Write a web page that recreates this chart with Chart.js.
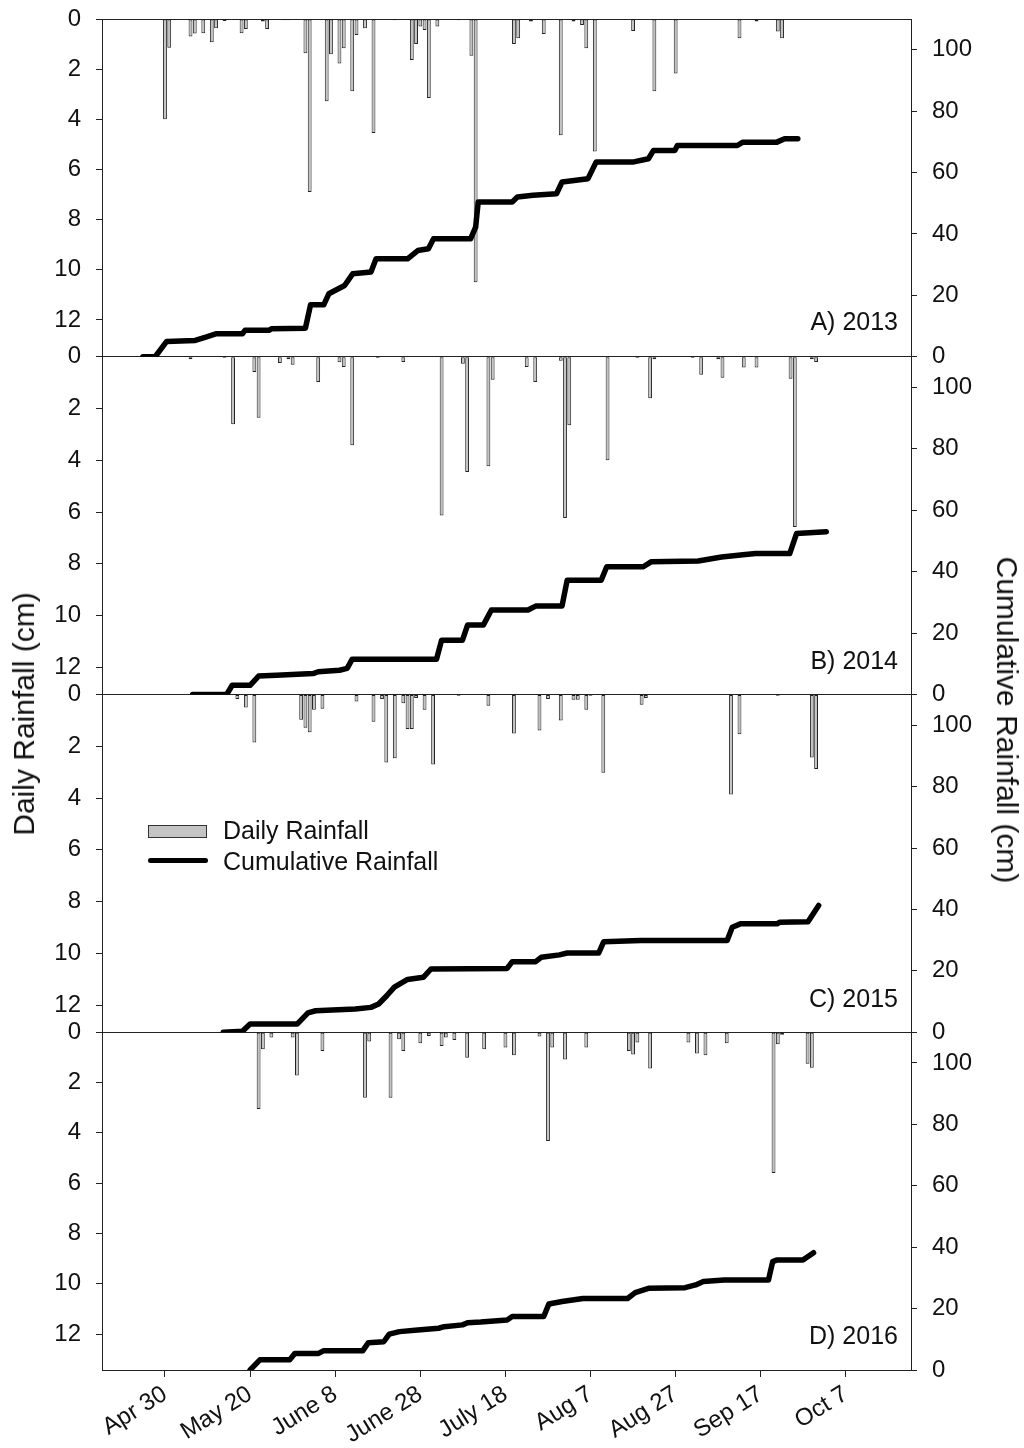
<!DOCTYPE html>
<html>
<head>
<meta charset="utf-8">
<script src="https://cdn.jsdelivr.net/npm/chart.js@4.4.1/dist/chart.umd.min.js"></script>
<style>
  body { margin: 0; background: #fff; }
  #wrap { position: relative; width: 1024px; height: 1448px; font-family: "Liberation Sans", Arial, sans-serif; color: #111; }
  canvas { position: absolute; left: 0; top: 0; }
  .title { position: absolute; font-size: 30px; white-space: nowrap; transform: translate(-50%, -50%); }
  .panel { position: absolute; right: 126px; font-size: 25px; line-height: 28px; white-space: nowrap; }
  .leg { position: absolute; font-size: 25px; line-height: 28px; white-space: nowrap; }
</style>
</head>
<body>
<div id="wrap">
  <canvas id="chart" width="1024" height="1448"></canvas>
  <div class="title" style="left:24px;top:714px;transform:translate(-50%,-50%) rotate(-90deg)">Daily Rainfall (cm)</div>
  <div class="title" style="left:1007px;top:720px;transform:translate(-50%,-50%) rotate(90deg)">Cumulative Rainfall (cm)</div>
  <div class="panel" style="top:307px">A) 2013</div>
  <div class="panel" style="top:646px">B) 2014</div>
  <div class="panel" style="top:984px">C) 2015</div>
  <div class="panel" style="top:1321px">D) 2016</div>
  <div style="position:absolute;left:148px;top:825px;width:57px;height:11px;background:#c4c4c4;border:1px solid #333"></div>
  <div class="leg" style="left:223px;top:816px">Daily Rainfall</div>
  <div style="position:absolute;left:148px;top:858px;width:60px;height:5px;background:#000;border-radius:3px"></div>
  <div class="leg" style="left:223px;top:847px">Cumulative Rainfall</div>
</div>
<script>
// x axis: day of year, ticks every 20 days
const tickDays = [120, 140, 160, 180, 200, 220, 240, 260, 280];
const tickLabels = ['Apr 30', 'May 20', 'June 8', 'June 28', 'July 18', 'Aug 7', 'Aug 27', 'Sep 17', 'Oct 7'];
const years = ['2013', '2014', '2015', '2016'];
const dailyMax = [13.47, 13.05, 13.05, 13.43];
const cumMax = 110;

// daily rainfall (cm)
const rain2013Days = [120,121,126,127,129,131,132,134,138,139,143,144,148,149,153,154,158,159,161,162,164,165,167,169,174,178,179,180,181,182,184,189,192,193,202,203,206,209,213,216,218,219,221,230,235,240,255,259,264,265];
const rain2013 = [4.0,1.15,0.7,0.58,0.57,0.93,0.37,0.08,0.57,0.4,0.1,0.4,0.05,0.05,1.37,6.9,3.28,1.41,1.77,1.17,2.88,0.64,0.37,4.55,0.05,1.64,1.0,0.3,0.44,3.15,0.3,0.05,1.47,10.5,1.0,0.77,0.1,0.6,4.64,0.1,0.24,1.17,5.28,0.48,2.88,2.17,0.77,0.1,0.5,0.77];

const rain2014Days = [126,134,136,141,142,147,149,150,156,161,162,164,170,176,185,190,191,196,197,205,207,213,214,215,224,231,234,235,244,246,250,251,256,259,267,268,272,273];
const rain2014 = [0.1,0.05,2.61,0.59,2.36,0.24,0.1,0.31,0.98,0.21,0.4,3.42,0.05,0.2,6.13,0.27,4.45,4.23,0.89,0.4,0.98,0.15,6.23,2.65,4.0,0.05,1.6,0.1,0.05,0.7,0.1,0.81,0.42,0.42,0.85,6.58,0.1,0.2];

const rain2015Days = [137,139,141,152,153,154,155,157,165,169,171,172,174,176,177,178,179,181,183,189,196,202,208,210,213,216,217,219,220,223,232,233,253,255,264,272,273];
const rain2015 = [0.17,0.5,1.85,0.98,1.28,1.46,0.59,0.55,0.27,1.05,0.17,2.63,2.46,0.34,1.33,1.33,0.14,0.59,2.7,0.05,0.43,1.51,1.39,0.17,1.0,0.2,0.2,0.59,0.05,3.02,0.4,0.14,3.86,1.54,0.05,2.43,2.88];

const rain2016Days = [142,143,145,150,151,157,167,168,173,175,176,180,182,185,186,188,191,195,200,202,208,210,211,214,219,229,230,231,234,243,245,247,252,263,264,265,271,272];
const rain2016 = [3.05,0.68,0.21,0.21,1.72,0.75,2.6,0.37,2.6,0.28,0.75,0.44,0.15,0.55,0.21,0.31,1.01,0.68,0.61,0.91,0.17,4.32,0.61,1.08,0.61,0.75,0.88,0.41,1.44,0.41,0.84,0.91,0.44,5.6,0.48,0.1,1.25,1.41];

// cumulative rainfall (cm), read at the corners of the line
const cum2013Days = [114.8,117.7,120.4,127.1,129.6,132.1,138.2,138.8,144.4,145,153,154.2,157.3,158.5,162.2,164.1,168.4,169.6,177,179.4,181.9,183.1,191.8,193,193.6,201.6,202.8,206.5,212,213.3,219.4,221.3,229.9,233.6,234.8,239.8,240.4,254.5,255.8,263.8,265.6,268.7];
const cum2013 = [0,0,5.0,5.3,6.4,7.5,7.5,8.6,8.6,9.1,9.3,16.9,16.9,20.5,23.2,27.0,27.6,31.9,31.9,34.6,35.2,38.4,38.4,42.2,50.4,50.4,52,52.6,53.1,56.9,58,63.4,63.4,64.5,67.2,67.2,68.8,68.8,69.9,69.9,71,71];

const cum2014Days = [126.5,134.5,135.8,140,142,146.2,154.8,156,161,162.8,164,183.8,185,189.9,191.1,194.8,196.7,205.3,207.1,213.3,214.5,222.5,223.8,232.4,234.2,245.3,250.8,255.8,258.8,266.8,268.4,275.4];
const cum2014 = [0,0,3,3,6,6.3,6.8,7.4,7.9,8.5,11.5,11.5,17.7,17.7,22.6,22.6,27.5,27.5,28.8,28.8,37.2,37.2,41.6,41.6,43.2,43.5,44.8,45.5,45.9,45.9,52.4,53];

const cum2015Days = [133.7,138.2,140,151.1,153.6,155.4,164.7,168.4,170.2,172.1,173.9,177,180.7,182.5,200.4,201.6,207.1,208.4,212.7,214.5,221.9,223.1,231.8,252.1,253.3,255.2,263.8,264.4,271.1,273.6];
const cum2015 = [0,0.3,2.7,2.7,6.3,7,7.6,8.1,9.2,11.9,14.7,17.2,17.9,20.6,20.8,23,23,24.4,25.2,25.8,25.8,29.5,29.9,29.9,34.2,35.3,35.3,35.8,36,41.3];

const cum2016Days = [140,142.3,149.3,150.5,156.1,157.3,166.5,167.8,171.4,172.7,175.1,179.4,184.3,185.6,189.9,191.1,194.2,200.4,201.6,209,210.2,213.3,218.2,228.7,230.5,233.6,242.2,244.7,246.5,251.4,261.8,262.8,263.7,269.9,272.4];
const cum2016 = [0,3.3,3.3,5.4,5.4,6.3,6.3,8.9,9.2,11.7,12.5,13,13.6,14.1,14.7,15.4,15.6,16.3,17.4,17.4,21.5,22.3,23.3,23.3,25.2,26.6,26.8,27.7,28.8,29.3,29.3,35.3,35.8,35.8,38.2];

const dailyDays = [rain2013Days, rain2014Days, rain2015Days, rain2016Days];
const dailyVals = [rain2013, rain2014, rain2015, rain2016];
const cumDays = [cum2013Days, cum2014Days, cum2015Days, cum2016Days];
const cumVals = [cum2013, cum2014, cum2015, cum2016];

const font = { family: '"Liberation Sans", Arial, sans-serif', size: 24 };
const zeroLine = ctx => (ctx.tick && ctx.tick.value === 0 ? '#222' : 'rgba(0,0,0,0)');

// y axes: fixed width, and no extra room for the end labels
const fitY = w => s => { s.width = w; s.paddingTop = 0; s.paddingBottom = 0; };

const scales = {
  x: {
    type: 'linear',
    position: 'bottom',
    offset: false,
    min: 105.2,
    max: 295.3,
    afterBuildTicks: s => { s.ticks = tickDays.map(v => ({ value: v })); },
    afterFit: s => { s.height = 78; },
    ticks: {
      font,
      color: '#111',
      minRotation: 32,
      maxRotation: 32,
      padding: 3,
      autoSkip: false,
      callback: v => tickLabels[tickDays.indexOf(v)],
    },
    grid: { offset: false, drawOnChartArea: false, tickLength: 7, tickColor: '#222' },
    border: { color: '#222', width: 1 },
  },
};

const datasets = [];
years.forEach((yr, i) => {
  scales['d' + yr] = {
    type: 'linear',
    position: 'left',
    stack: 'daily',
    stackWeight: 1,
    weight: 4 - i,
    reverse: true,
    min: 0,
    max: dailyMax[i],
    afterFit: fitY(102),
    ticks: { stepSize: 2, includeBounds: false, autoSkip: false, font, color: '#111', padding: 15 },
    grid: { color: zeroLine, tickColor: '#222', tickLength: 6 },
    border: { color: '#222', width: 1 },
  };
  scales['c' + yr] = {
    type: 'linear',
    position: 'right',
    stack: 'cumulative',
    stackWeight: 1,
    weight: i + 1,
    min: 0,
    max: cumMax,
    afterFit: fitY(113),
    ticks: { stepSize: 20, includeBounds: false, autoSkip: false, font, color: '#111', padding: 15 },
    grid: { drawOnChartArea: false, tickColor: '#222', tickLength: 6 },
    border: { color: '#222', width: 1 },
  };

  datasets.push({
    type: 'bar',
    label: 'Daily Rainfall ' + yr,
    data: dailyDays[i].map((d, k) => ({ x: d, y: dailyVals[i][k] })),
    xAxisID: 'x',
    yAxisID: 'd' + yr,
    backgroundColor: '#c2c2c2',
    borderColor: '#222',
    borderWidth: 1,
    borderSkipped: false,
    grouped: false,
    barPercentage: 1,
    categoryPercentage: 0.9,
    order: 2,
  });
  datasets.push({
    type: 'line',
    label: 'Cumulative Rainfall ' + yr,
    data: cumDays[i].map((d, k) => ({ x: d, y: cumVals[i][k] })),
    xAxisID: 'x',
    yAxisID: 'c' + yr,
    borderColor: '#000',
    borderWidth: 5.5,
    pointRadius: 0,
    tension: 0,
    borderCapStyle: 'round',
    borderJoinStyle: 'round',
    order: 1,
  });
});

new Chart(document.getElementById('chart'), {
  type: 'bar',
  data: { datasets },
  options: {
    responsive: false,
    animation: false,
    layout: { padding: { top: 19, left: 0, right: 0, bottom: 0 } },
    plugins: { legend: { display: false }, tooltip: { enabled: false } },
    scales,
  },
});
</script>
</body>
</html>
